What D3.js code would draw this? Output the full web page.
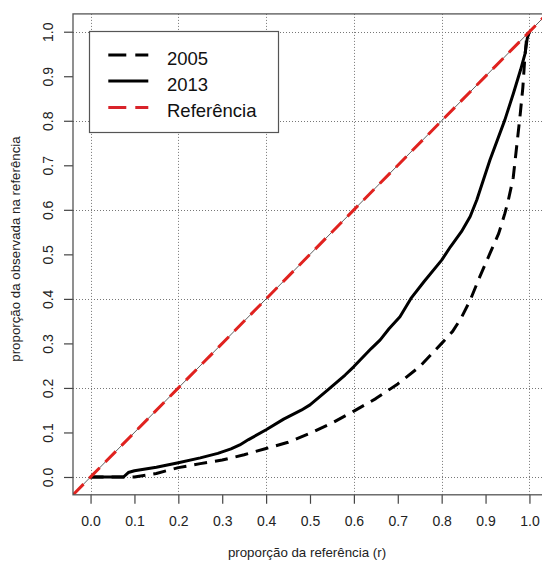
<!DOCTYPE html>
<html>
<head>
<meta charset="utf-8">
<script src="https://cdn.jsdelivr.net/npm/d3@7"></script>
<style>
  html, body { margin: 0; padding: 0; background: #fff; }
  svg { display: block; font-family: "Liberation Sans", Arial, sans-serif; }
</style>
</head>
<body>
<svg id="chart" width="542" height="562"></svg>
<script>
// Lorenz-type curves: share of the reference (r) vs. observed share
const r2005   = [0, 0.10, 0.15, 0.20, 0.25, 0.30, 0.35, 0.40, 0.45, 0.50, 0.55, 0.60, 0.65, 0.70, 0.75, 0.80, 0.825, 0.845, 0.865, 0.887, 0.91, 0.93, 0.944, 0.952, 0.963, 0.972, 0.979, 0.985, 0.989, 0.993, 1.0];
const obs2005 = [0, 0.0,  0.008, 0.021, 0.030, 0.038, 0.050, 0.064, 0.078, 0.098, 0.121, 0.148, 0.176, 0.209, 0.248, 0.300, 0.327, 0.358, 0.397, 0.450, 0.502, 0.547, 0.592, 0.622, 0.672, 0.752, 0.815, 0.875, 0.935, 0.980, 1.0];

const r2013   = [0, 0.075, 0.086, 0.10, 0.15, 0.20, 0.25, 0.29, 0.32, 0.34, 0.36, 0.40, 0.44, 0.48, 0.50, 0.54, 0.58, 0.60, 0.64, 0.66, 0.68, 0.705, 0.73, 0.76, 0.80, 0.82, 0.845, 0.865, 0.88, 0.91, 0.944, 0.963, 0.980, 0.990, 0.995, 1.0];
const obs2013 = [0, 0.0,   0.010, 0.014, 0.022, 0.032, 0.043, 0.053, 0.063, 0.072, 0.084, 0.106, 0.130, 0.150, 0.162, 0.195, 0.229, 0.248, 0.289, 0.308, 0.333, 0.360, 0.401, 0.439, 0.487, 0.517, 0.551, 0.585, 0.622, 0.712, 0.802, 0.860, 0.915, 0.951, 0.985, 1.0];

const axisTicks = [0, 0.1, 0.2, 0.3, 0.4, 0.5, 0.6, 0.7, 0.8, 0.9, 1.0];
const gridTicks = [0, 0.2, 0.4, 0.6, 0.8, 1.0];
const legendLabels = ["2005", "2013", "Referência"];
const xTitle = "proporção da referência (r)";
const yTitle = "proporção da observada na referência";

const svg = d3.select("#chart");
const plotLeft = 73, plotRight = 547, plotTop = 13.9, plotBottom = 494.8;

const x = d3.scaleLinear().domain([-0.04, 1.04]).range([plotLeft, plotRight]);
const y = d3.scaleLinear().domain([-0.04, 1.04]).range([plotBottom, plotTop]);

svg.append("defs").append("clipPath").attr("id", "plotClip")
  .append("rect").attr("x", plotLeft).attr("y", plotTop)
  .attr("width", plotRight - plotLeft).attr("height", plotBottom - plotTop);

// dotted grid
const grid = svg.append("g").attr("clip-path", "url(#plotClip)")
  .attr("stroke", "#777").attr("stroke-width", 1).attr("stroke-dasharray", "1,2");
grid.selectAll("line.v").data(gridTicks).join("line").attr("class", "v")
  .attr("x1", d => Math.round(x(d)) + 0.5).attr("x2", d => Math.round(x(d)) + 0.5)
  .attr("y1", plotTop).attr("y2", plotBottom);
grid.selectAll("line.h").data(gridTicks).join("line").attr("class", "h")
  .attr("y1", d => Math.round(y(d)) + 0.5).attr("y2", d => Math.round(y(d)) + 0.5)
  .attr("x1", plotLeft).attr("x2", plotRight);

// axes
const xAxis = svg.append("g").attr("transform", `translate(0,${plotBottom})`)
  .call(d3.axisBottom(x).tickValues(axisTicks).tickFormat(d3.format(".1f")).tickSize(9).tickSizeOuter(0));
xAxis.select(".domain").remove();
xAxis.selectAll(".tick line").attr("stroke", "#444").attr("stroke-width", 1.2);
xAxis.selectAll(".tick text").attr("y", 31.5).attr("dy", null)
  .attr("font-size", 14).attr("fill", "#222").attr("font-family", "Liberation Sans, Arial, sans-serif");

const yAxis = svg.append("g").attr("transform", `translate(${plotLeft},0)`)
  .call(d3.axisLeft(y).tickValues(axisTicks).tickFormat(d3.format(".1f")).tickSize(9).tickSizeOuter(0));
yAxis.select(".domain").remove();
yAxis.selectAll(".tick line").attr("stroke", "#444").attr("stroke-width", 1.2);
yAxis.selectAll(".tick text")
  .attr("x", null).attr("dy", null)
  .attr("text-anchor", "middle")
  .attr("transform", "translate(-20,0) rotate(-90)")
  .attr("font-size", 14).attr("fill", "#222").attr("font-family", "Liberation Sans, Arial, sans-serif");

// axis titles
svg.append("text").attr("x", 307).attr("y", 557)
  .attr("text-anchor", "middle").attr("font-size", 13.3).attr("fill", "#222").text(xTitle);
svg.append("text").attr("transform", "translate(20,249) rotate(-90)")
  .attr("text-anchor", "middle").attr("font-size", 13.3).attr("fill", "#222").text(yTitle);

const plot = svg.append("g").attr("clip-path", "url(#plotClip)");
const line = d3.line().x(d => x(d[0])).y(d => y(d[1]));

// curves
plot.append("path").datum(d3.zip(r2005, obs2005)).attr("d", line)
  .attr("fill", "none").attr("stroke", "#000").attr("stroke-width", 3)
  .attr("stroke-dasharray", "13,8").attr("stroke-linejoin", "round");
plot.append("path").datum(d3.zip(r2013, obs2013)).attr("d", line)
  .attr("fill", "none").attr("stroke", "#000").attr("stroke-width", 3)
  .attr("stroke-linejoin", "round");

// equality line: thin solid with red dashes on top
const diag = [[-0.04, -0.04], [1.04, 1.04]];
plot.append("path").datum(diag).attr("d", line)
  .attr("fill", "none").attr("stroke", "#333").attr("stroke-width", 0.8);
plot.append("path").datum(diag).attr("d", line)
  .attr("fill", "none").attr("stroke", "#e0221f").attr("stroke-width", 3)
  .attr("stroke-dasharray", "15,8");

// plot box
svg.append("rect").attr("x", plotLeft).attr("y", plotTop)
  .attr("width", plotRight - plotLeft).attr("height", plotBottom - plotTop)
  .attr("fill", "none").attr("stroke", "#555").attr("stroke-width", 1.3);

// legend
const lg = svg.append("g");
lg.append("rect").attr("x", 89.5).attr("y", 31.5).attr("width", 189).attr("height", 101)
  .attr("fill", "#fff").attr("stroke", "#555").attr("stroke-width", 1.2);
const legendStyles = [
  { color: "#000", dash: "18,9" },
  { color: "#000", dash: null },
  { color: "#d9232a", dash: "18,9" }
];
const rowY = [55, 81, 107.5];
legendLabels.forEach((lab, i) => {
  lg.append("line").attr("x1", 108.3).attr("x2", 148.3)
    .attr("y1", rowY[i]).attr("y2", rowY[i])
    .attr("stroke", legendStyles[i].color).attr("stroke-width", 3)
    .attr("stroke-dasharray", legendStyles[i].dash);
  lg.append("text").attr("x", 167).attr("y", rowY[i] + 9.5)
    .attr("font-size", 18.5).attr("fill", "#111").text(lab);
});
</script>
</body>
</html>
